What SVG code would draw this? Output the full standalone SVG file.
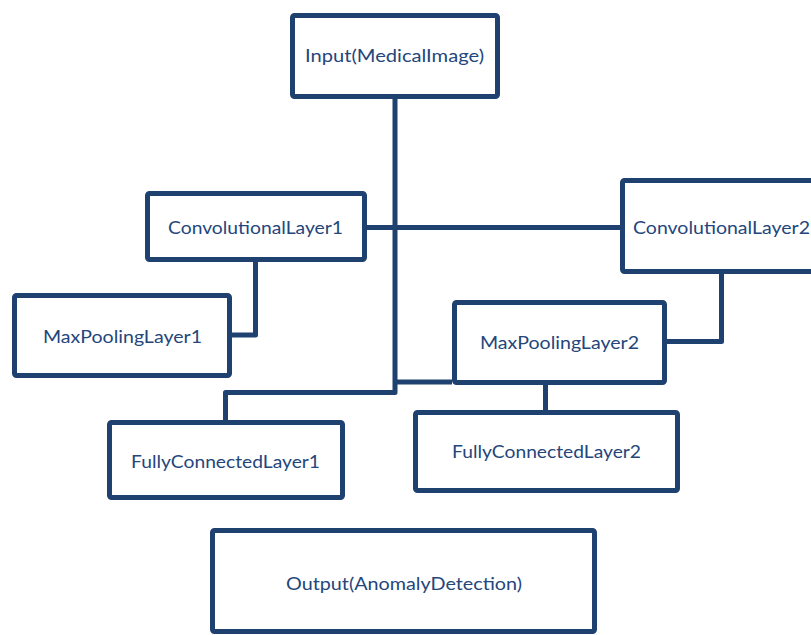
<svg xmlns="http://www.w3.org/2000/svg" width="811" height="635" viewBox="0 0 811 635">
  <style>
    .box { fill: #ffffff; stroke: #1f4170; stroke-width: 5; }
    .wire { fill: none; stroke: #1f4170; stroke-width: 5; stroke-linejoin: round; }
    .label { font-family: Lato, "Open Sans", "Liberation Sans", sans-serif; font-size: 18px; fill: #24467b; text-anchor: middle; dominant-baseline: central; }
  </style>
  <rect width="811" height="635" fill="#ffffff"/>

  <!-- connectors -->
  <g id="connectors">
    <path class="wire" d="M395,99 V392.5 H225.5 V420"/>
    <path class="wire" d="M367,227.5 H620"/>
    <path class="wire" d="M255.5,262 V335 H232"/>
    <path class="wire" d="M721.5,274 V341.5 H667"/>
    <path class="wire" d="M395,382 H452"/>
    <path class="wire" d="M545.5,385 V410"/>
  </g>

  <g id="input">
    <rect class="box" x="292.5" y="15.5" width="205" height="81" rx="2"/>
    <text class="label" x="394.5" y="55" textLength="179" lengthAdjust="spacingAndGlyphs">Input(MedicalImage)</text>
  </g>

  <g id="conv1">
    <rect class="box" x="147.5" y="193.5" width="217" height="66" rx="2"/>
    <text class="label" x="255.5" y="227" textLength="175" lengthAdjust="spacingAndGlyphs">ConvolutionalLayer1</text>
  </g>

  <g id="conv2">
    <rect class="box" x="622.5" y="180.5" width="200" height="91" rx="2"/>
    <text class="label" x="721.5" y="227" textLength="177" lengthAdjust="spacingAndGlyphs">ConvolutionalLayer2</text>
  </g>

  <g id="maxpool1">
    <rect class="box" x="14.5" y="295.5" width="215" height="80" rx="2"/>
    <text class="label" x="122.5" y="336" textLength="159" lengthAdjust="spacingAndGlyphs">MaxPoolingLayer1</text>
  </g>

  <g id="maxpool2">
    <rect class="box" x="454.5" y="302.5" width="210" height="80" rx="2"/>
    <text class="label" x="559.5" y="342" textLength="159" lengthAdjust="spacingAndGlyphs">MaxPoolingLayer2</text>
  </g>

  <g id="fc1">
    <rect class="box" x="109.5" y="422.5" width="233" height="75" rx="2"/>
    <text class="label" x="225.5" y="461" textLength="189" lengthAdjust="spacingAndGlyphs">FullyConnectedLayer1</text>
  </g>

  <g id="fc2">
    <rect class="box" x="415.5" y="412.5" width="262" height="78" rx="2"/>
    <text class="label" x="546.5" y="451" textLength="189" lengthAdjust="spacingAndGlyphs">FullyConnectedLayer2</text>
  </g>

  <g id="output">
    <rect class="box" x="212.5" y="530.5" width="382" height="101" rx="2"/>
    <text class="label" x="404" y="583" textLength="236" lengthAdjust="spacingAndGlyphs">Output(AnomalyDetection)</text>
  </g>
</svg>
